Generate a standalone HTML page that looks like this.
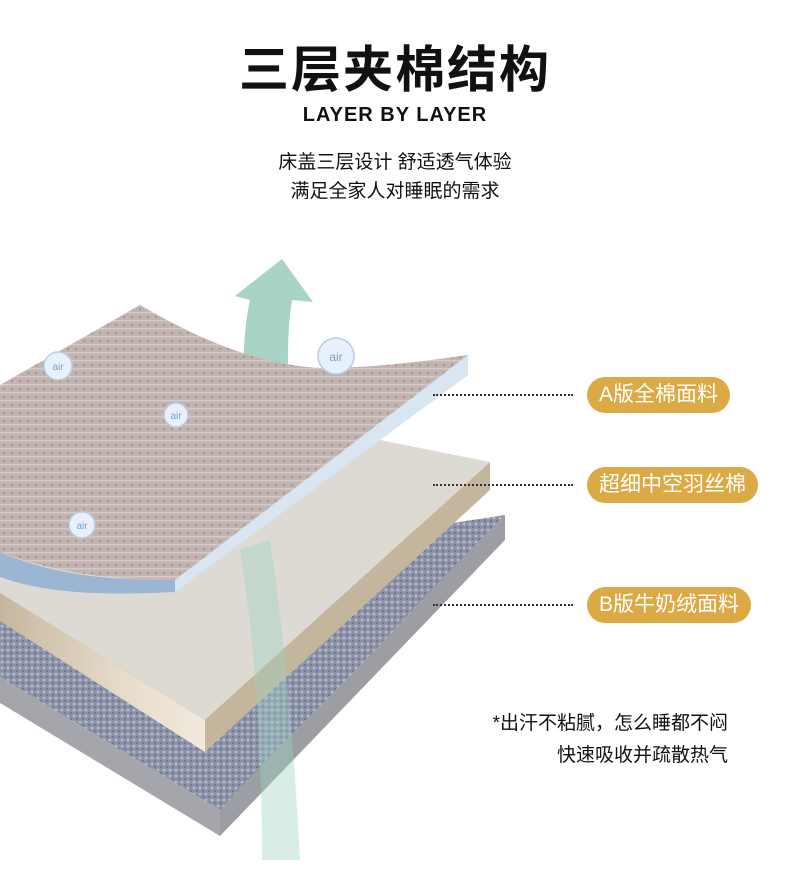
<!DOCTYPE html>
<html><head><meta charset="utf-8"><style>
body{margin:0;width:790px;height:890px;background:#fff;position:relative;overflow:hidden;font-family:"Liberation Sans","Noto Sans CJK SC",sans-serif;}
.t{position:absolute;left:0;width:790px;text-align:center;color:#111}
.pill{position:absolute;left:587px;height:36px;border-radius:18px;background:#dcaa45;color:#fff;font-size:21px;line-height:36px;padding:0 12px;white-space:nowrap}
.dot{position:absolute;left:433px;width:140px;border-top:2px dotted #333}
.r{position:absolute;right:62px;font-size:19px;color:#111;text-align:right}
</style></head><body>
<div class="t" style="top:30px;font-size:50px;font-weight:bold;letter-spacing:2px">三层夹棉结构</div>
<div class="t" style="top:104px;font-size:20px;font-weight:bold;letter-spacing:1px">LAYER BY LAYER</div>
<div class="t" style="top:147px;font-size:19px">床盖三层设计 舒适透气体验</div>
<div class="t" style="top:176px;font-size:19px">满足全家人对睡眠的需求</div>
<svg width="790" height="890" style="position:absolute;left:0;top:0">
<defs>
<pattern id="fl" width="6" height="6" patternUnits="userSpaceOnUse"><rect width="6" height="6" fill="#8c93a8"/><circle cx="2" cy="2" r="1.3" fill="#b9bfcf"/><circle cx="5" cy="5" r="1" fill="#6b7188"/></pattern>
<pattern id="pr" width="8" height="8" patternUnits="userSpaceOnUse"><rect width="8" height="8" fill="#c2b5b1"/><rect width="8" height="1.5" fill="#d4c9c6"/><circle cx="4" cy="5" r="0.9" fill="#a07a72"/></pattern>
<linearGradient id="mf" x1="0" x2="1" y1="0" y2="0"><stop offset="0" stop-color="#c6b69d"/><stop offset="0.6" stop-color="#e6dccb"/><stop offset="1" stop-color="#f1e9dc"/></linearGradient>
</defs>
<!-- bottom layer -->
<polygon points="0,677 220,810 220,836 0,703" fill="#a5a6ac"/>
<polygon points="220,810 505,515 505,540 220,836" fill="#9c9ea4"/>
<polygon points="0,540 420,528 505,515 220,810 0,677" fill="url(#fl)"/>
<!-- middle layer -->
<polygon points="0,593 205,720 205,752 0,621" fill="url(#mf)"/>
<polygon points="205,720 490,462 490,490 205,752" fill="#c4b59d"/>
<polygon points="0,470 380,440 490,462 205,720 0,593" fill="#dcdad2"/>
<!-- arrow lower transparent -->
<path d="M300,860 C295,760 285,640 270,540 L240,550 C255,640 262,760 262,860 Z" fill="#9fd2c4" opacity="0.4"/>
<!-- top layer -->
<path d="M0,552 C60,578 120,580 175,580 L175,592 C110,595 50,595 0,577 Z" fill="#9ab6d3"/>
<polygon points="175,580 468,355 468,375 175,592" fill="#d7e6f0"/>
<!-- arrow -->
<path d="M245,420 C242,380 243,330 250,300 L235,296 L282,259 L313,302 L292,300 C287,330 287,370 290,420 Z" fill="#a8d4c7"/>
<path d="M0,385 L140,305 C200,340 260,365 320,368 C380,368 430,360 468,355 L175,580 C120,580 60,575 0,552 Z" fill="url(#pr)"/>
<g fill="#e8f1fb" stroke="#b5cde6" stroke-width="1.5">
<circle cx="58" cy="366" r="14"/><circle cx="336" cy="356" r="18"/><circle cx="176" cy="415" r="12"/><circle cx="82" cy="525" r="13"/>
</g>
<g fill="#7aa0c8" font-size="10" text-anchor="middle" font-family="Liberation Sans">
<text x="58" y="370">air</text><text x="336" y="361" font-size="12">air</text><text x="176" y="419">air</text><text x="82" y="529">air</text>
</g>
</svg>
<div class="dot" style="top:394px"></div>
<div class="dot" style="top:484px"></div>
<div class="dot" style="top:604px"></div>
<div class="pill" style="top:377px">A版全棉面料</div>
<div class="pill" style="top:467px">超细中空羽丝棉</div>
<div class="pill" style="top:587px">B版牛奶绒面料</div>
<div class="r" style="top:708px">*出汗不粘腻，怎么睡都不闷</div>
<div class="r" style="top:740px">快速吸收并疏散热气</div>
</body></html>
